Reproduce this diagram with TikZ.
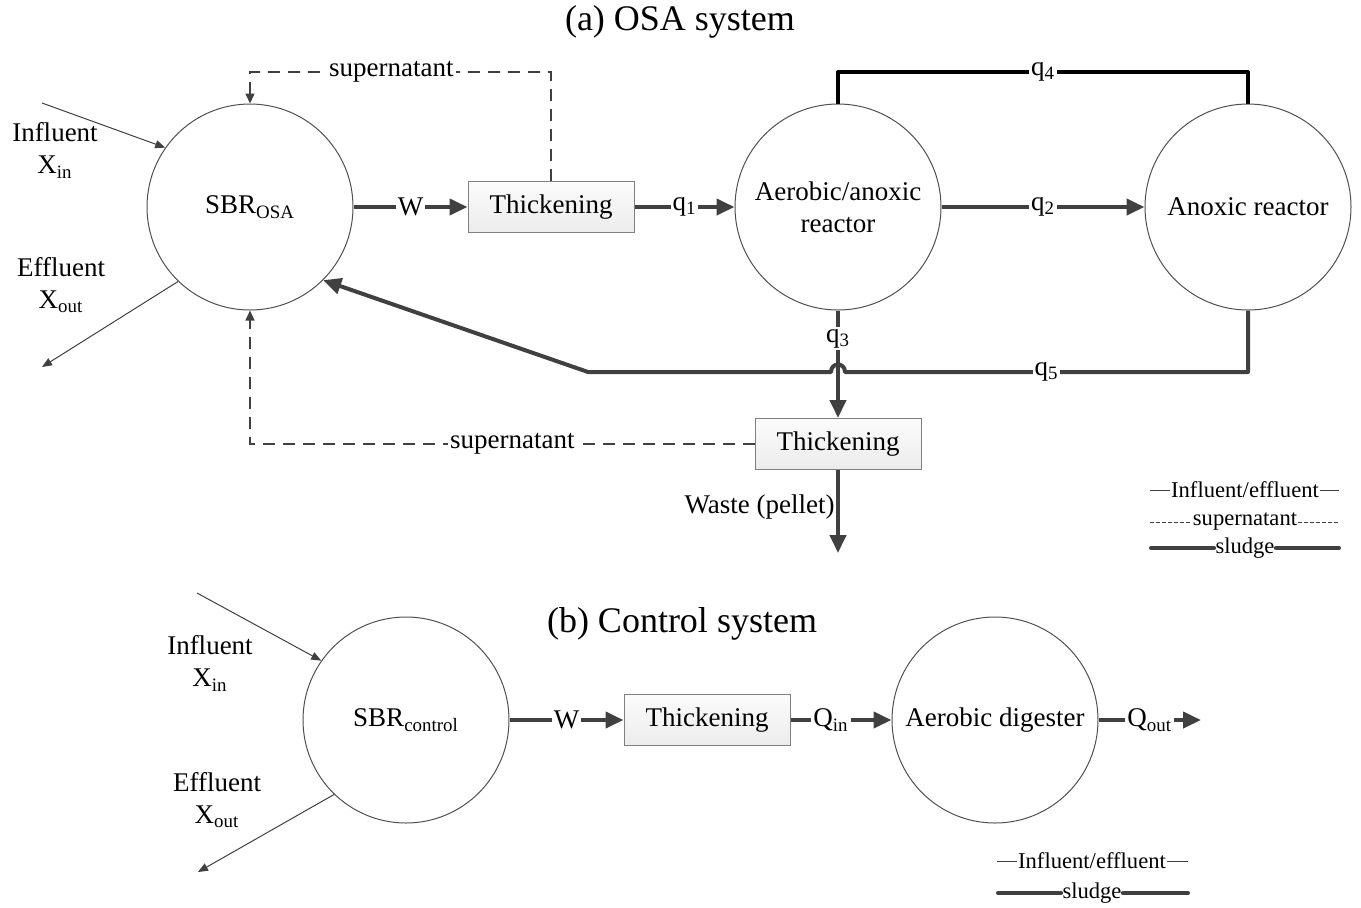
\documentclass[tikz,border=0pt]{standalone}
\usepackage{fontspec}
\setmainfont{Liberation Serif}
\usetikzlibrary{arrows.meta}
\definecolor{ln}{HTML}{404040}
\definecolor{cl}{HTML}{505050}
\begin{document}
\begin{tikzpicture}[x=0.5pt,y=-0.5pt,
  every node/.style={font=\fontsize{13.5}{16}\selectfont, text=black},
  reactor/.style={circle, draw=cl, line width=0.5pt, minimum size=103pt, inner sep=0pt, align=center},
  thickbox/.style={draw=gray, line width=0.5pt, top color=gray!3, bottom color=gray!15, minimum width=83pt, minimum height=25.5pt, inner sep=0pt},
  sludge/.style={draw=ln, line width=2pt, line join=round, -{Triangle[length=9pt,width=8pt]}},
  qfour/.style={draw=black, line width=2pt, line join=round},
  thinarrow/.style={draw=ln, line width=0.5pt, -{Triangle[length=5pt,width=4pt]}},
  super/.style={draw=ln, line width=0.75pt, dash pattern=on 6pt off 4pt, -{Triangle[length=5pt,width=4.5pt]}},
  lab/.style={fill=white, inner sep=1pt},
  titlefont/.style={font=\fontsize{18}{22}\selectfont},
  legtext/.style={font=\fontsize{11.3}{14}\selectfont, inner sep=0.5pt},
  legthin/.style={draw=ln, line width=0.5pt},
  legdash/.style={draw=ln, line width=0.5pt, dash pattern=on 2pt off 1pt},
  legthick/.style={draw=ln, line width=2pt, line cap=round}
]
\useasboundingbox (0,0) rectangle (1361,907);

% ---------------- (a) OSA system ----------------
\node[titlefont] (ta) at (680,22) {(a) OSA system};
\node[reactor] (sbr) at (250,207) {SBR\textsubscript{OSA}};
\node[thickbox] (th1) at (551,207) {Thickening};
\node[reactor] (aer) at (838,207) {Aerobic/anoxic\\reactor};
\node[reactor] (anx) at (1248,207) {Anoxic reactor};
\node[thickbox] (th2) at (838,444) {Thickening};

\node (inf) at (55,132) {Influent};
\node (xin) at (55,167) {X\textsubscript{in}};
\node (eff) at (61,267) {Effluent};
\node (xout) at (61,302) {X\textsubscript{out}};

\coordinate (infs) at (42,103);
\coordinate (effe) at (42,367);
\draw[thinarrow] (infs) -- (sbr.145);
\draw[thinarrow] (sbr.226.5) -- (effe);

\draw[sludge] (sbr.east) -- node[lab]{W} (th1.west);
\draw[sludge] (th1.east) -- node[lab]{q\textsubscript{1}} (aer.west);
\draw[sludge] (aer.east) -- node[lab]{q\textsubscript{2}} (anx.west);

\coordinate (q4r) at (1248,72);
\draw[qfour] (aer.north) |- node[lab, pos=0.75]{q\textsubscript{4}} (q4r) -- (anx.north);

\coordinate (q5a) at (1248,372);
\coordinate (hopR) at (845,372);
\coordinate (hopL) at (831,372);
\coordinate (q5b) at (588,372);
\draw[sludge] (anx.south) -- (q5a) -- node[lab]{q\textsubscript{5}} (hopR)
  .. controls (845,362) and (831,362) .. (hopL) -- (q5b) -- (sbr.-45);

\draw[sludge] (aer.south) -- node[lab, pos=0.26]{q\textsubscript{3}} (th2.north);

\coordinate (waste) at (838,553);
\draw[sludge] (th2.south) -- (waste);
\node[anchor=east, inner sep=0pt] (wl) at (835,507) {Waste (pellet)};

\coordinate (s1) at (551,72);
\coordinate (s2) at (250,72);
\draw[super] (th1.north) -- (s1) -- node[lab, pos=0.53]{supernatant} (s2) -- (sbr.north);

\coordinate (s3) at (250,444);
\draw[super] (th2.west) -- node[lab, pos=0.48]{supernatant} (s3) -- (sbr.south);

% legend (a)
\node[legtext] (lg1) at (1245,490) {Influent/effluent};
\node[legtext] (lg2) at (1245,522) {supernatant};
\node[legtext] (lg3) at (1245,548) {sludge};
\coordinate (l1a) at (1150,490); \coordinate (l1b) at (1339,490);
\coordinate (l2a) at (1150,522); \coordinate (l2b) at (1339,522);
\coordinate (l3a) at (1151,548); \coordinate (l3b) at (1339,548);
\draw[legthin] (l1a) -- (lg1.west);
\draw[legthin] (lg1.east) -- (l1b);
\draw[legdash] (l2a) -- (lg2.west);
\draw[legdash] (lg2.east) -- (l2b);
\draw[legthick] (l3a) -- (lg3.west |- l3a);
\draw[legthick] (lg3.east |- l3b) -- (l3b);

% ---------------- (b) Control system ----------------
\node[titlefont] (tb) at (682,624) {(b) Control system};
\node[reactor] (sbrc) at (406,720) {SBR\textsubscript{control}};
\node[thickbox] (th3) at (707,720) {Thickening};
\node[reactor] (dig) at (995,720) {Aerobic digester};

\node (inf2) at (210,645) {Influent};
\node (xin2) at (210,680) {X\textsubscript{in}};
\node (eff2) at (217,782) {Effluent};
\node (xout2) at (217,817) {X\textsubscript{out}};

\coordinate (infs2) at (197,593);
\coordinate (effe2) at (198,872);
\draw[thinarrow] (infs2) -- (sbrc.145);
\draw[thinarrow] (sbrc.226.5) -- (effe2);

\coordinate (qout) at (1201,720);
\draw[sludge] (sbrc.east) -- node[lab]{W} (th3.west);
\draw[sludge] (th3.east) -- node[lab, pos=0.4]{Q\textsubscript{in}} (dig.west);
\draw[sludge] (dig.east) -- node[lab]{Q\textsubscript{out}} (qout);

% legend (b)
\node[legtext] (lg4) at (1092,861) {Influent/effluent};
\node[legtext] (lg5) at (1092,893) {sludge};
\coordinate (l4a) at (997,861); \coordinate (l4b) at (1188,861);
\coordinate (l5a) at (998,893); \coordinate (l5b) at (1188,893);
\draw[legthin] (l4a) -- (lg4.west);
\draw[legthin] (lg4.east) -- (l4b);
\draw[legthick] (l5a) -- (lg5.west |- l5a);
\draw[legthick] (lg5.east |- l5b) -- (l5b);
\end{tikzpicture}
\end{document}
